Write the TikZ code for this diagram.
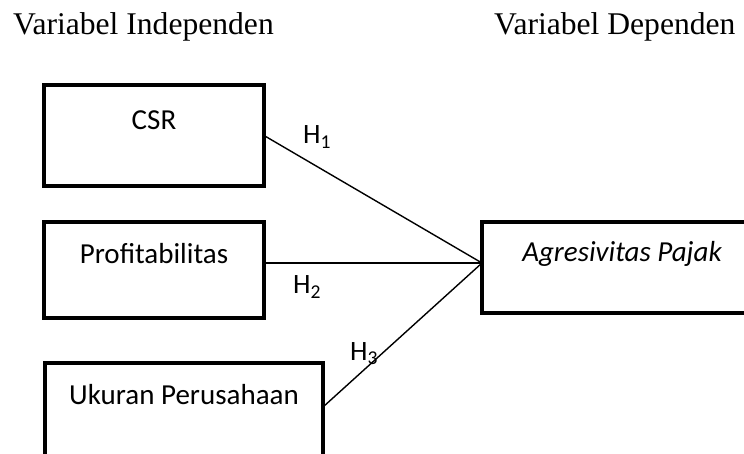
\documentclass[tikz,border=0pt]{standalone}
\usepackage{fontspec}
\setmainfont{Carlito}
\newfontfamily\headfont{Liberation Serif}
\tikzset{
  varbox/.style={draw, line width=4.5pt, inner sep=0pt, outer sep=0pt},
  boxtext/.style={anchor=base, inner sep=0pt, font=\fontsize{29}{35}\selectfont},
  headtext/.style={anchor=base west, inner sep=0pt, font=\headfont\fontsize{31.6}{38}\selectfont},
  hlabel/.style={anchor=base west, inner sep=0pt, font=\fontsize{28}{34}\selectfont},
  conn/.style={line width=1.4pt}
}
\begin{document}
\begin{tikzpicture}[x=1pt,y=-1pt]
\useasboundingbox (0,0) rectangle (744,454);
\clip (0,0) rectangle (744,454);
% headers
\node[headtext] (hind) at (13,35) {Variabel Independen};
\node[headtext] (hdep) at (494,35) {Variabel Dependen};
% boxes
\node[varbox, minimum width=220pt, minimum height=101pt] (csr) at (154,135.5) {};
\node[varbox, minimum width=220pt, minimum height=96pt] (prof) at (154,270) {};
\node[varbox, minimum width=278pt, minimum height=97pt] (uk) at (184,411.5) {};
\node[varbox, minimum width=280pt, minimum height=91pt] (agr) at (622,267.5) {};
% texts
\node[boxtext] (tcsr) at (154,130) {CSR};
\node[boxtext] (tprof) at (154,264) {Profitabilitas};
\node[boxtext] (tuk) at (184,404) {Ukuran Perusahaan};
\node[boxtext] (tagr) at (622,262) {\itshape Agresivitas Pajak};
% connectors
\coordinate (meet) at (482,263);
\coordinate (ukout) at (323,407);
\draw[conn] (csr.east) -- (meet);
\draw[conn] (prof.east |- meet) -- (meet);
\draw[conn] (ukout) -- (meet);
% labels
\node[hlabel] (h1) at (303,144) {H\textsubscript{1}};
\node[hlabel] (h2) at (293,294) {H\textsubscript{2}};
\node[hlabel] (h3) at (350,360) {H\textsubscript{3}};
\end{tikzpicture}
\end{document}
